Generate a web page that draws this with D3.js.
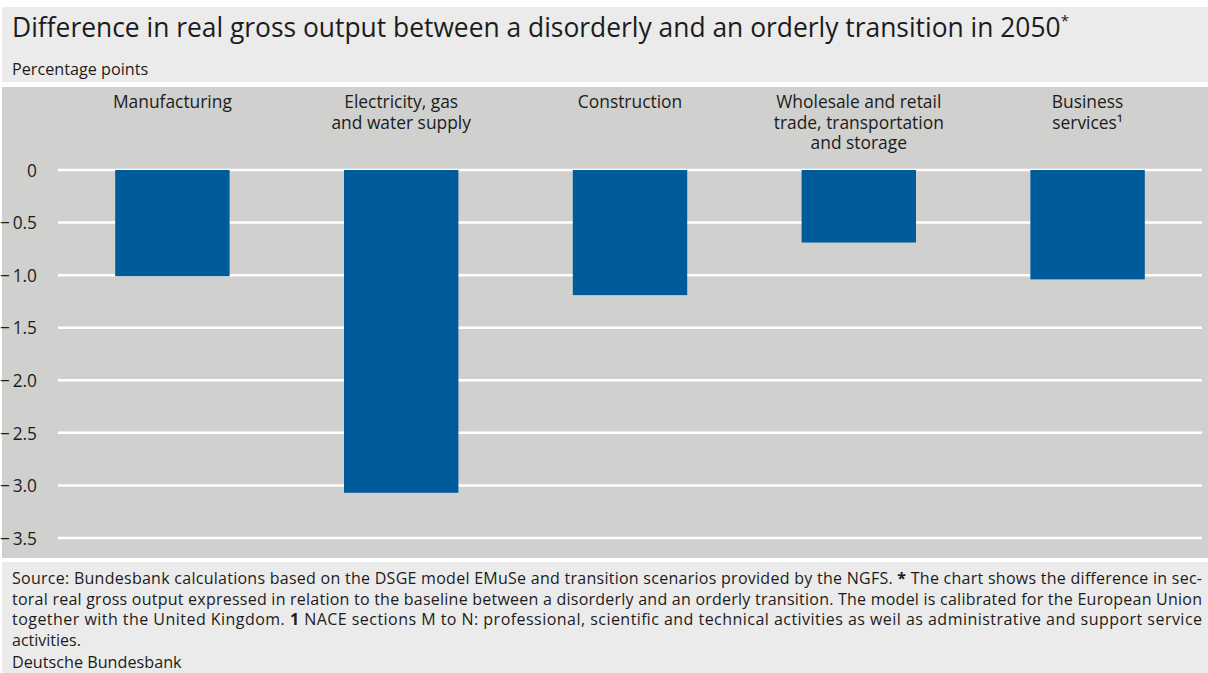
<!DOCTYPE html>
<html><head><meta charset="utf-8">
<script src="https://cdn.jsdelivr.net/npm/d3@7"></script>
<style>
html,body{margin:0;padding:0;background:#fff;}
svg{display:block;font-family:"Open Sans","Noto Sans",sans-serif;}
</style></head>
<body>
<svg id="chart" width="1208" height="673"></svg>
<script>
const categories = [
  ["Manufacturing"],
  ["Electricity, gas", "and water supply"],
  ["Construction"],
  ["Wholesale and retail", "trade, transportation", "and storage"],
  ["Business", "services¹"]
];
const values = [-1.01, -3.07, -1.19, -0.69, -1.04];
const yTicks = [0, -0.5, -1.0, -1.5, -2.0, -2.5, -3.0, -3.5];
const title = "Difference in real gross output between a disorderly and an orderly transition in 2050";
const subtitle = "Percentage points";
const footLines = [
  [{t:"Source: Bundesbank calculations based on the DSGE model EMuSe and transition scenarios provided by the NGFS. "},{t:"*",b:true},{t:" The chart shows the difference in sec-"}],
  [{t:"toral real gross output expressed in relation to the baseline between a disorderly and an orderly transition. The model is calibrated for the European Union"}],
  [{t:"together with the United Kingdom. "},{t:"1",b:true},{t:" NACE sections M to N: professional, scientific and technical activities as weil as administrative and support service"}],
  [{t:"activities."}]
];
const credit = "Deutsche Bundesbank";

const svg = d3.select("#chart");
const W = 1208, H = 673;
const ink = "#1c1c1c";
svg.append("rect").attr("x",2).attr("y",7).attr("width",W-2).attr("height",75).attr("fill","#ebebeb");
svg.append("rect").attr("x",2).attr("y",87).attr("width",W-2).attr("height",471).attr("fill","#d0d0ce");
svg.append("rect").attr("x",2).attr("y",562).attr("width",W-2).attr("height",H-562).attr("fill","#ebebeb");

const t = svg.append("text").attr("x",12).attr("y",37).attr("font-size",26.4).attr("fill",ink);
t.append("tspan").text(title);
t.append("tspan").attr("font-size",15).attr("dy",-11).text("*");
svg.append("text").attr("x",12).attr("y",75).attr("font-size",16.2).attr("fill",ink).text(subtitle);

const x = d3.scaleBand().domain(d3.range(values.length)).range([58,1202]).paddingInner(0.5).paddingOuter(0.25);
const y = d3.scaleLinear().domain([0,-3.5]).range([170,538]);

const fmt = v => v === 0 ? "0" : "\u2212\u2009" + d3.format(".1f")(Math.abs(v));
const yAxis = d3.axisLeft(y).tickValues(yTicks).tickSize(0).tickPadding(0).tickFormat(fmt);
const gy = svg.append("g").attr("transform","translate(37,0)").call(yAxis);
gy.select(".domain").remove();
gy.selectAll("text").attr("font-size",17.3).attr("fill",ink).attr("font-family","'Open Sans','Noto Sans',sans-serif").attr("dy","0.36em");

svg.append("g").selectAll("line").data(yTicks).join("line")
  .attr("x1",58).attr("x2",1202).attr("y1",d=>y(d)).attr("y2",d=>y(d))
  .attr("stroke","#fff").attr("stroke-width",2.5);

svg.append("g").selectAll("rect").data(values).join("rect")
  .attr("x",(d,i)=>x(i)).attr("width",x.bandwidth())
  .attr("y",d=>y(Math.max(0,d))).attr("height",d=>Math.abs(y(d)-y(0)))
  .attr("fill","#005b9a");

const lab = svg.append("g").selectAll("text").data(categories).join("text")
  .attr("text-anchor","middle").attr("font-size",17.4).attr("fill",ink)
  .attr("x",(d,i)=>x(i)+x.bandwidth()/2).attr("y",108);
lab.selectAll("tspan").data(d=>d).join("tspan")
  .attr("x",function(){return this.parentNode.getAttribute("x");})
  .attr("dy",(d,i)=>i===0?0:20.5).text(d=>d);

const fg = svg.append("g");
footLines.forEach((line,i)=>{
  const tx = fg.append("text").attr("x",12).attr("y",584+i*20.7).attr("font-size",16).attr("fill",ink);
  if (i < footLines.length-1) tx.attr("textLength",1190).attr("lengthAdjust","spacing");
  line.forEach(s=>{ tx.append("tspan").attr("font-weight",s.b?"bold":null).text(s.t); });
});
svg.append("text").attr("x",12).attr("y",668).attr("font-size",16.2).attr("fill",ink).text(credit);
</script>
</body></html>
